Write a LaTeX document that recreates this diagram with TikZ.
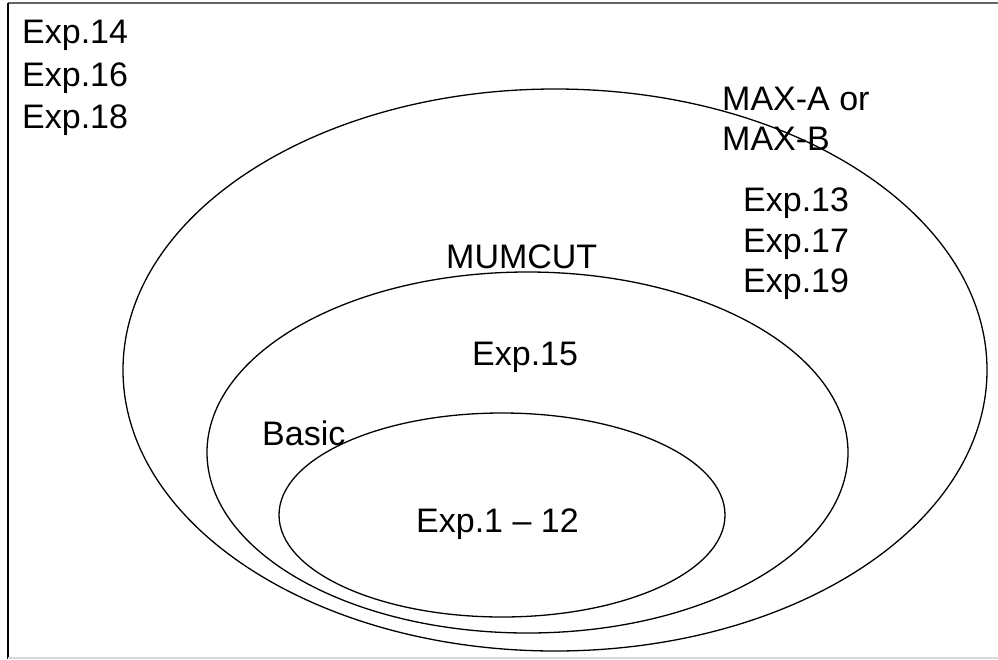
\documentclass[tikz,border=0pt]{standalone}
\usepackage{fontspec}
\setmainfont{Liberation Sans}
\begin{document}
\begin{tikzpicture}[x=1pt,y=-1pt,
  lbl/.style={anchor=base west,inner sep=0pt,font=\fontsize{34}{37}\selectfont},
  setline/.style={draw=black,line width=1.3pt}]
\useasboundingbox (0,0) rectangle (998,659);
\fill[white] (0,0) rectangle (998,659);
% frame
\draw[line width=1.5pt,gray!80!black] (8,3) -- (998,3);
\draw[line width=1.5pt,black] (8,3) -- (8,659);
\draw[line width=1.5pt,black!15] (8,658) -- (998,658);
% sets
\draw[setline] (555,370) ellipse [x radius=432, y radius=281];
\draw[setline] (527.5,452.5) ellipse [x radius=320.5, y radius=180.5];
\draw[setline] (502,515) ellipse [x radius=223, y radius=102];
% labels
\node[lbl] (e14) at (22,43) {Exp.14};
\node[lbl] (e16) at (22,86) {Exp.16};
\node[lbl] (e18) at (22,128) {Exp.18};
\node[lbl] (maxa) at (722,110) {MAX-A or};
\node[lbl] (maxb) at (722,150) {MAX-B};
\node[lbl] (e13) at (743,211) {Exp.13};
\node[lbl] (e17) at (743,252) {Exp.17};
\node[lbl] (e19) at (743,292) {Exp.19};
\node[lbl] (mum) at (446,268) {MUMCUT};
\node[lbl] (e15) at (472,365) {Exp.15};
\node[lbl] (basic) at (262,445) {Basic};
\node[lbl] (e112) at (416,532) {Exp.1 -- 12};
\end{tikzpicture}
\end{document}
